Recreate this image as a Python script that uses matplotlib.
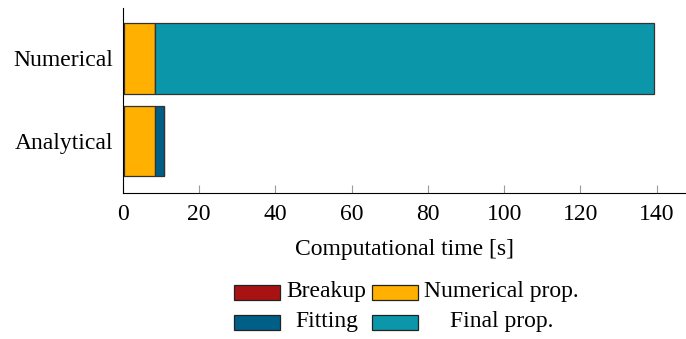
import numpy as np
from matplotlib import pyplot as plt
from matplotlib.patches import Rectangle

methods = ['Analytical', 'Numerical']
stages = ['Breakup', 'Numerical prop.', 'Fitting', 'Final prop.']
colors = ['#a81212', '#ffb000', '#005f87', '#0b97a9']

# seconds spent in each stage, per method
breakup = [0.2, 0.2]
numerical_prop = [8.2, 8.2]
fitting = [2.4, 0.0]
final_prop = [0.0, 130.8]

plt.rcParams['font.family'] = ['Liberation Serif', 'DejaVu Serif']
plt.rcParams['mathtext.fontset'] = 'stix'

fig = plt.figure(figsize=(6.86, 3.39), dpi=100)
ax = fig.add_axes([0.179, 0.431, 0.82, 0.545])

y = np.arange(len(methods))
left = np.zeros(len(methods))
for name, vals, c in zip(stages, [breakup, numerical_prop, fitting, final_prop], colors):
    vals = np.array(vals)
    ax.barh(y, vals, left=left, height=0.85, color=c, edgecolor='#333333',
            linewidth=0.9, label=name)
    left += vals

ax.set_xlim(0, 147.5)
ax.set_ylim(-0.63, 1.61)
ax.set_yticks(y)
ax.set_yticklabels(methods, fontsize=17)
ax.set_xticks(np.arange(0, 141, 20))
ax.tick_params(axis='x', direction='in', length=6, color='#999999', labelsize=17, pad=8)
ax.tick_params(axis='y', length=0, pad=7)
ax.spines['top'].set_visible(False)
ax.spines['right'].set_visible(False)
ax.set_xlabel('Computational time [s]', fontsize=17, labelpad=10)

# legend: 2x2 grid, handle then text centred in its column
handle_x = [234, 372]
text_cx = [326.5, 501.5]
row_y = [292, 322]
order = [[0, 1], [2, 3]]
for r, row in enumerate(order):
    for col, idx in enumerate(row):
        x0 = handle_x[col]
        yc = row_y[r]
        fig.add_artist(Rectangle((x0 / 686, 1 - (yc + 7.5) / 339), 46 / 686, 15 / 339,
                                 transform=fig.transFigure, facecolor=colors[idx],
                                 edgecolor='#222222', linewidth=0.9))
        fig.text(text_cx[col] / 686, 1 - yc / 339, stages[idx], fontsize=17,
                 ha='center', va='center')

fig.savefig('out.png', dpi=100)
